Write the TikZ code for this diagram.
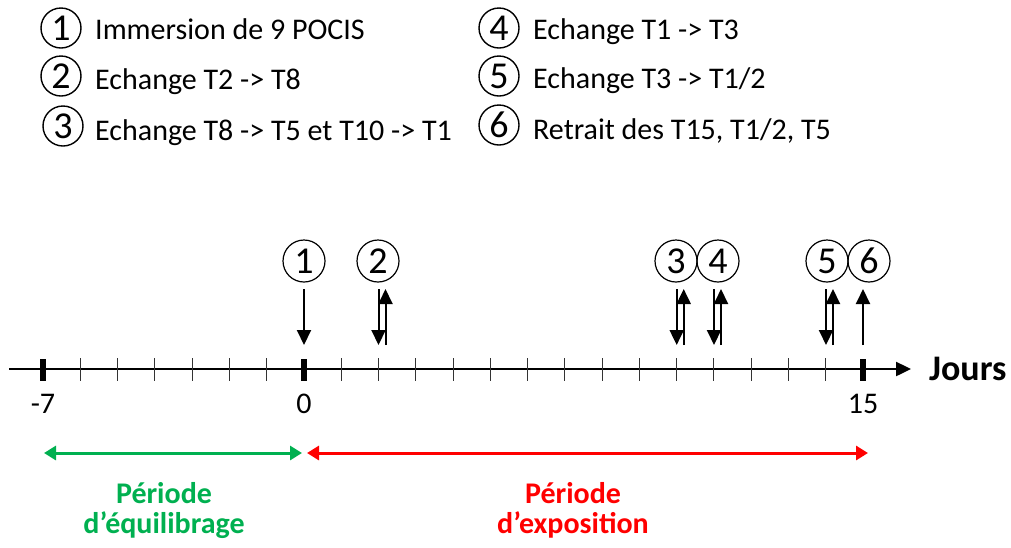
\documentclass[tikz,border=0pt]{standalone}
\usepackage{fontspec}
\setmainfont{Carlito}
\usetikzlibrary{arrows.meta}
\definecolor{pgreen}{RGB}{0,176,80}
\definecolor{pred}{RGB}{255,0,0}
\begin{document}
\begin{tikzpicture}[x=1pt,y=-1pt,
  every node/.style={font=\fontsize{30}{36}\selectfont, inner sep=0pt},
  num/.style={draw, circle, line width=1.4pt, minimum size=40pt, inner sep=0pt, font=\fontsize{38}{40}\selectfont},
  tnum/.style={draw, circle, line width=1.2pt, minimum size=42pt, inner sep=0pt, font=\fontsize{38}{40}\selectfont},
  legtext/.style={anchor=base west},
  evarrow/.style={line width=2pt, -{Triangle[length=15pt,width=14pt]}},
  axisline/.style={line width=2.4pt, -{Triangle[length=15pt,width=14pt]}},
  minortick/.style={line width=1pt, black!80},
  majortick/.style={line width=6pt},
  period/.style={line width=3pt, {Triangle[length=12pt,width=14pt]}-{Triangle[length=12pt,width=14pt]}},
  plabel/.style={font=\fontsize{30}{36}\selectfont\bfseries, anchor=base}
]
\useasboundingbox (0,0) rectangle (1011,547);

% legend
\node[num] (l1) at (61,28) {1};
\node[legtext] (t1) at (95,39) {Immersion de 9 POCIS};
\node[num] (l2) at (61,76) {2};
\node[legtext] (t2) at (95,89) {Echange T2 -> T8};
\node[num] (l3) at (63,126) {3};
\node[legtext] (t3) at (95,140) {Echange T8 -> T5 et T10 -> T1};
\node[num] (l4) at (499,28) {4};
\node[legtext] (t4) at (533,39) {Echange T1 -> T3};
\node[num] (l5) at (499,76) {5};
\node[legtext] (t5) at (533,88) {Echange T3 -> T1/2};
\node[num] (l6) at (499,125) {6};
\node[legtext] (t6) at (533,139) {Retrait des T15, T1/2, T5};

% axis
\coordinate (axs) at (9,369);
\coordinate (axe) at (911,369);
\draw[axisline] (axs) -- (axe);
\foreach \i in {-6,...,-1,1,2,...,14} {
  \draw[minortick] ({304+37.27*\i},358) -- ({304+37.27*\i},381);
}
\foreach \i in {-7,0,15} {
  \draw[majortick] ({304+37.27*\i},359) -- ({304+37.27*\i},381);
}
\node (lm7) at (43,404) {-7};
\node (l0) at (304,404) {0};
\node (l15) at (863,404) {15};
\node[anchor=west, font=\fontsize{36}{40}\selectfont\bfseries] (jours) at (929,369) {Jours};

% event circles
\node[tnum] (c1) at (304,261) {1};
\node[tnum] (c2) at (378,261) {2};
\node[tnum] (c3) at (676,261) {3};
\node[tnum] (c4) at (718,261) {4};
\node[tnum] (c5) at (827,261) {5};
\node[tnum] (c6) at (869,261) {6};

% event arrows
\draw[evarrow] (304,289) -- (304,345);
\foreach \x in {378.5,676.7,714,826} {
  \draw[evarrow] (\x,289) -- (\x,345);
  \draw[evarrow] ({\x+7},345) -- ({\x+7},289);
}
\draw[evarrow] (863,345) -- (863,289);

% periods
\draw[period, pgreen] (44,453) -- (302,453);
\draw[period, pred] (307,453) -- (868,453);
\node[plabel, text=pgreen] (pg1) at (164,503) {Période};
\node[plabel, text=pgreen] (pg2) at (164,533) {d’équilibrage};
\node[plabel, text=pred] (pr1) at (573,503) {Période};
\node[plabel, text=pred] (pr2) at (573,533) {d’exposition};
\end{tikzpicture}
\end{document}
